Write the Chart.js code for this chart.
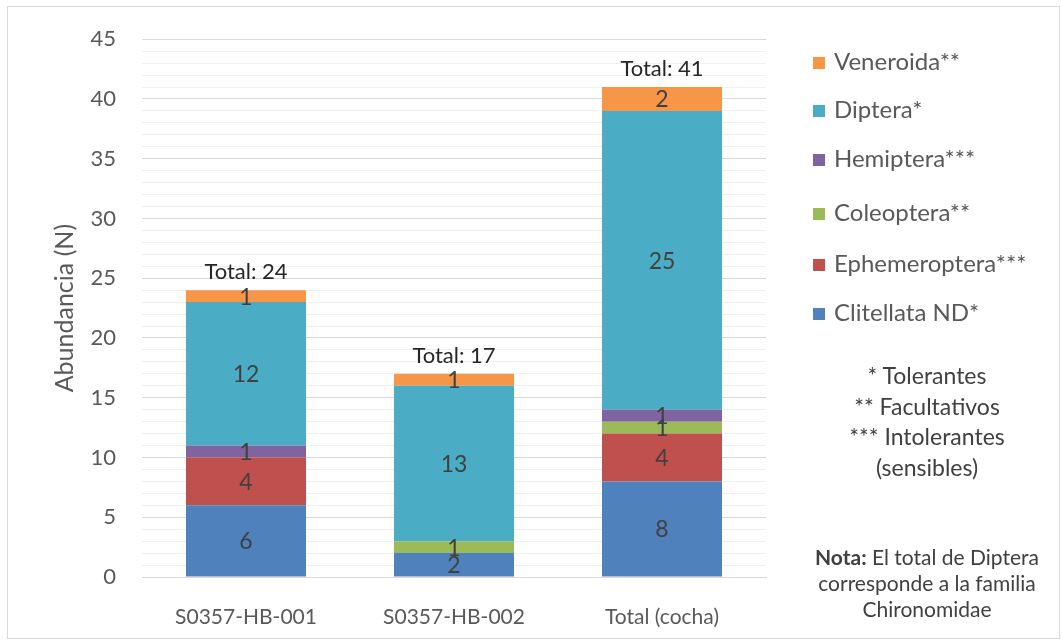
<!DOCTYPE html>
<html>
<head>
<meta charset="utf-8">
<script src="https://cdn.jsdelivr.net/npm/chart.js@4.4.0/dist/chart.umd.min.js"></script>
<style>
  body { margin: 0; background: #fff; font-family: Lato, "Open Sans", sans-serif; }
  #wrap { position: relative; width: 1062px; height: 641px; }
  #frame { position: absolute; left: 7px; top: 6px; width: 1051px; height: 631px; border: 1px solid #d9d9d9; }
  #chart { position: absolute; left: 0; top: 0; }
  #legend { position: absolute; left: 813px; top: 0; color: #595959; font-size: 24px; }
  .item { position: absolute; left: 0; white-space: nowrap; height: 28px; line-height: 28px; }
  .box { display: inline-block; width: 12px; height: 12px; margin-right: 9px; vertical-align: 1px; }
  #notes { position: absolute; left: 800px; width: 254px; top: 360px; text-align: center; color: #404040; font-size: 23px; line-height: 30.5px; }
  #nota { position: absolute; left: 795px; width: 264px; top: 544px; text-align: center; color: #404040; font-size: 21px; line-height: 26px; }
</style>
</head>
<body>
<div id="wrap">
  <div id="frame"></div>
  <canvas id="chart" width="1062" height="641"></canvas>
  <div id="legend"></div>
  <div id="notes">* Tolerantes<br>** Facultativos<br>*** Intolerantes<br>(sensibles)</div>
  <div id="nota"><b>Nota:</b> El total de Diptera<br>corresponde a la familia<br>Chironomidae</div>
</div>
<script>
var categories = ["S0357-HB-001", "S0357-HB-002", "Total (cocha)"];
var clitellata = [6, 2, 8];
var ephemeroptera = [4, 0, 4];
var coleoptera = [0, 1, 1];
var hemiptera = [1, 0, 1];
var diptera = [12, 13, 25];
var veneroida = [1, 1, 2];

var series = [
    { label: "Clitellata ND*", data: clitellata, color: "#4F81BD" },
    { label: "Ephemeroptera***", data: ephemeroptera, color: "#C0504D" },
    { label: "Coleoptera**", data: coleoptera, color: "#9BBB59" },
    { label: "Hemiptera***", data: hemiptera, color: "#8064A2" },
    { label: "Diptera*", data: diptera, color: "#4BACC6" },
    { label: "Veneroida**", data: veneroida, color: "#F79646" }
];

var FONT = "Lato, 'Open Sans', sans-serif";

var datasets = series.map(function(s) {
    return {
        label: s.label,
        data: s.data,
        backgroundColor: s.color,
        borderWidth: 0,
        categoryPercentage: 1.0,
        barPercentage: 0.577
    };
});

// value labels inside segments + totals on top
var labelPlugin = {
    id: "labels",
    afterDatasetsDraw: function(chart) {
        var ctx = chart.ctx;
        ctx.save();
        ctx.textAlign = "center";
        ctx.textBaseline = "middle";
        ctx.fillStyle = "#404040";
        ctx.font = "23px " + FONT;
        chart.data.datasets.forEach(function(ds, i) {
            var meta = chart.getDatasetMeta(i);
            meta.data.forEach(function(bar, j) {
                var v = ds.data[j];
                if (!v) return;
                ctx.fillText(String(v), bar.x, (bar.y + bar.base) / 2 + 1);
            });
        });
        var last = chart.getDatasetMeta(chart.data.datasets.length - 1);
        ctx.fillStyle = "#262626";
        ctx.font = "22px " + FONT;
        categories.forEach(function(c, j) {
            var total = 0;
            chart.data.datasets.forEach(function(ds) { total += ds.data[j]; });
            var y = chart.scales.y.getPixelForValue(total);
            ctx.fillText("Total: " + total, last.data[j].x, y - 18);
        });
        ctx.restore();
    }
};

new Chart(document.getElementById("chart"), {
    type: "bar",
    data: { labels: categories, datasets: datasets },
    plugins: [labelPlugin],
    options: {
        responsive: false,
        animation: false,
        layout: { padding: { top: 37, right: 296, left: 0, bottom: 0 } },
        plugins: { legend: { display: false }, tooltip: { enabled: false } },
        scales: {
            x: {
                stacked: true,
                grid: { display: false },
                border: { display: true, color: "#d9d9d9" },
                ticks: { color: "#595959", font: { family: FONT, size: 21 }, padding: 20 },
                afterFit: function(scale) { scale.height = 64; }
            },
            y: {
                stacked: true,
                min: 0,
                max: 45,
                grid: {
                    drawTicks: false,
                    color: function(c) { return c.tick.value % 5 === 0 ? "#d9d9d9" : "#f0f0f0"; }
                },
                border: { display: false },
                ticks: {
                    stepSize: 1,
                    autoSkip: false,
                    padding: 26,
                    color: "#595959",
                    font: { family: FONT, size: 22 },
                    callback: function(v) { return v % 5 === 0 ? v : ""; }
                },
                title: {
                    display: true,
                    text: "Abundancia (N)",
                    color: "#595959",
                    font: { family: FONT, size: 25 },
                    padding: { top: 50, bottom: 0 }
                },
                afterFit: function(scale) { scale.width = 142; }
            }
        }
    }
});

// legend, top entry first
var legend = document.getElementById("legend");
var tops = [61, 109, 158, 212, 263, 312];
series.slice().reverse().forEach(function(s, i) {
    var d = document.createElement("div");
    d.className = "item";
    d.style.top = (tops[i] - 14) + "px";
    d.innerHTML = '<span class="box" style="background:' + s.color + '"></span>' + s.label;
    legend.appendChild(d);
});
</script>
</body>
</html>
